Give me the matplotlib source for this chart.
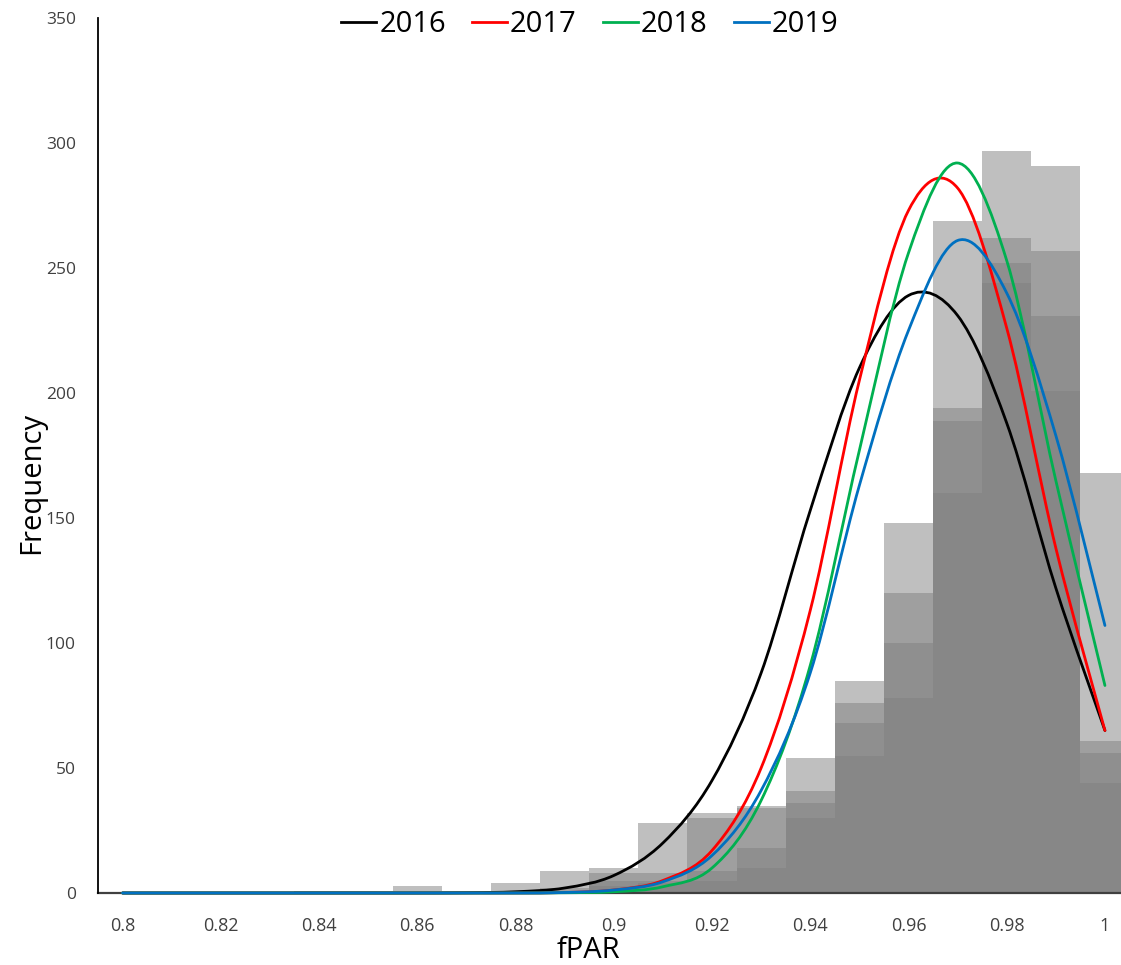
import matplotlib.pyplot as plt
from matplotlib.path import Path
from matplotlib.patches import PathPatch
from matplotlib.lines import Line2D

plt.rcParams['font.family'] = ['Open Sans', 'DejaVu Sans']

# fPAR bin centres (bin width 0.01)
fpar = [0.80, 0.81, 0.82, 0.83, 0.84, 0.85, 0.86, 0.87, 0.88, 0.89, 0.90,
        0.91, 0.92, 0.93, 0.94, 0.95, 0.96, 0.97, 0.98, 0.99, 1.00]
years = ['2016', '2017', '2018', '2019']
colors = ['#000000', '#ff0000', '#00b050', '#0070c0']

# histogram counts per year
counts_2016 = [0, 0, 0, 0, 1, 1, 3, 1, 4, 9, 10, 28, 32, 35, 54, 85, 148, 194, 244, 201, 44]
counts_2017 = [0, 0, 0, 0, 0, 0, 0, 0, 1, 2, 8, 8, 30, 34, 41, 76, 120, 269, 262, 231, 56]
counts_2018 = [0, 0, 0, 0, 0, 0, 0, 0, 0, 1, 5, 5, 9, 18, 36, 68, 100, 189, 297, 257, 61]
counts_2019 = [0, 0, 0, 0, 0, 0, 0, 0, 0, 0, 3, 4, 5, 10, 30, 55, 78, 160, 252, 291, 168]

# fitted frequency curves per year
fit_2016 = [0, 0, 0, 0, 0, 0, 0, 0.1, 0.5, 2, 7, 20, 45, 88, 153, 210, 239, 231, 188, 122, 65]
fit_2017 = [0, 0, 0, 0, 0, 0, 0, 0, 0, 0.2, 1.2, 5, 17, 50, 113, 205, 273, 282, 226, 138, 65]
fit_2018 = [0, 0, 0, 0, 0, 0, 0, 0, 0, 0.1, 0.5, 2.5, 10, 37, 91, 177, 256, 292, 253, 165, 83]
fit_2019 = [0, 0, 0, 0, 0, 0, 0, 0, 0, 0.2, 1.2, 4.5, 15, 41, 88, 163, 225, 261, 240, 183, 107]

counts = [counts_2016, counts_2017, counts_2018, counts_2019]
fits = [fit_2016, fit_2017, fit_2018, fit_2019]


def smooth_path(x, y):
    # Catmull-Rom style smoothed line as cubic bezier segments
    n = len(x)
    verts = [(x[0], y[0])]
    codes = [Path.MOVETO]
    for i in range(n - 1):
        xp, yp = (x[i - 1], y[i - 1]) if i > 0 else (x[i], y[i])
        xn, yn = (x[i + 2], y[i + 2]) if i + 2 < n else (x[i + 1], y[i + 1])
        c1 = (x[i] + (x[i + 1] - xp) / 6, y[i] + (y[i + 1] - yp) / 6)
        c2 = (x[i + 1] - (xn - x[i]) / 6, y[i + 1] - (yn - y[i]) / 6)
        verts += [c1, c2, (x[i + 1], y[i + 1])]
        codes += [Path.CURVE4] * 3
    return Path(verts, codes)


fig = plt.figure(figsize=(11.21, 9.65), dpi=100)
ax = fig.add_axes([98 / 1121, 72 / 965, 1031.5 / 1121, 875 / 965])

for c in counts:
    ax.bar(fpar, c, width=0.01, color='#808080', alpha=0.5, linewidth=0, zorder=1)

handles = []
for yr, f, col in zip(years, fits, colors):
    ax.add_patch(PathPatch(smooth_path(fpar, f), facecolor='none', edgecolor=col,
                           linewidth=2.0, zorder=5, capstyle='round', clip_on=False))
    handles.append(Line2D([], [], color=col, linewidth=2.0, label=yr))

ax.set_xlim(0.795, 1.005)
ax.set_ylim(0, 350)
ax.set_xticks(fpar[::2])
ax.set_xticklabels([f'{v:g}' for v in fpar[::2]])
ax.set_yticks(range(0, 351, 50))

ax.spines['top'].set_visible(False)
ax.spines['right'].set_visible(False)
ax.spines['left'].set_color('black')
ax.spines['left'].set_linewidth(1.3)
ax.spines['bottom'].set_color('#404040')
ax.spines['bottom'].set_linewidth(1.6)
ax.spines['bottom'].set_zorder(2)

ax.tick_params(axis='x', length=0, pad=17, labelsize=13, labelcolor='#404040')
ax.tick_params(axis='y', length=0, pad=16, labelsize=12.5, labelcolor='#404040')

ax.set_xlabel('fPAR', fontsize=21)
ax.xaxis.set_label_coords((588 - 98) / 1031.5, (893 - 936) / 875)
ax.set_ylabel('Frequency', fontsize=21)
ax.yaxis.set_label_coords(-0.05, (893 - 483) / 875)

fig.legend(handles=handles, loc='center', bbox_to_anchor=(590 / 1121, 1 - 25 / 965),
           ncol=4, frameon=False, fontsize=21, handlelength=1.2,
           handletextpad=0.1, columnspacing=0.9)

fig.savefig('out.png', dpi=100)
